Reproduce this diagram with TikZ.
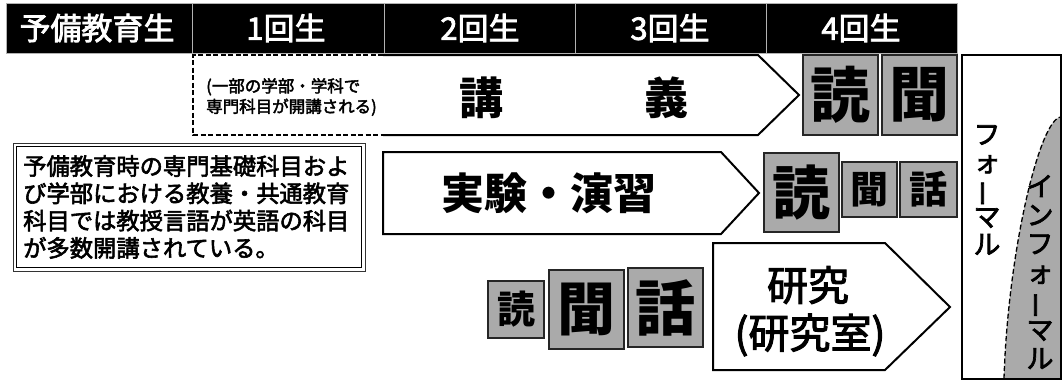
\documentclass[tikz,border=0pt]{standalone}
\usepackage{fontspec}
\setmainfont{Noto Sans CJK JP}
\newfontfamily\jpmed{Noto Sans CJK JP}[FakeBold=2.5]
\usepackage{graphicx}
\newcommand{\vbarchar}{\rotatebox[origin=c]{90}{ー}}
\definecolor{boxgray}{RGB}{170,170,170}
\begin{document}
\begin{tikzpicture}[x=1pt,y=-1pt,
  hcell/.style={fill=black, draw=gray!60, line width=0.8pt},
  htext/.style={text=white, inner sep=0pt, font=\jpmed\fontsize{31}{34}\selectfont},
  gbox/.style={fill=boxgray, draw=black!85, line width=1.2pt},
  penta/.style={draw=black, line width=2pt, line join=miter},
  kanji/.style={inner sep=0pt, font=\bfseries\fontsize{#1}{#1}\selectfont},
  medtext/.style={inner sep=0pt, font=\jpmed\fontsize{#1}{#1}\selectfont},
]
\useasboundingbox (0,0) rectangle (1063,380);

% header
\draw[hcell] (6,3) rectangle (192,53);
\draw[hcell] (192,3) rectangle (384,53);
\draw[hcell] (384,3) rectangle (575,53);
\draw[hcell] (575,3) rectangle (766,53);
\draw[hcell] (766,3) rectangle (957,53);
\node[htext] (h0) at (97,28) {予備教育生};
\node[htext] (h1) at (286,28) {1回生};
\node[htext] (h2) at (480,28) {2回生};
\node[htext] (h3) at (670,28) {3回生};
\node[htext] (h4) at (861,28) {4回生};

% row 1: lectures
\draw[penta, dash pattern=on 5pt off 2.5pt, line width=1.5pt] (383,55) -- (193,55) -- (193,135) -- (383,135);
\draw[penta] (383,55) -- (758,55) -- (799,95) -- (758,135) -- (383,135);
\node[anchor=west, align=left, inner sep=0pt, font=\jpmed\fontsize{16.5}{20.5}\selectfont] (sub) at (206,97) {(一部の学部・学科で\\専門科目が開講される)};
\node[kanji=44] (ko) at (481,98) {講};
\node[kanji=44] (gi) at (666,98) {義};
\draw[gbox] (803,55) rectangle (878,135);
\draw[gbox] (882,55) rectangle (957,135);
\node[kanji=60] (r1a) at (840.5,95) {読};
\node[kanji=60] (r1b) at (919.5,95) {聞};

% note box
\draw[line width=1pt, draw=black!80] (13,143) rectangle (365,271);
\draw[line width=1.6pt] (16.5,146.5) rectangle (361.5,267.5);
\node[anchor=west, align=left, inner sep=0pt, font=\jpmed\fontsize{23.3}{27.3}\selectfont] (note) at (23,207) {予備教育時の専門基礎科目およ\\び学部における教養・共通教育\\科目では教授言語が英語の科目\\が多数開講されている。};

% row 2: experiments
\draw[penta] (383,152) -- (721,152) -- (759,193) -- (721,234) -- (383,234) -- cycle;
\node[kanji=43] (ex) at (549,193) {実験・演習};
\draw[gbox] (764,153) rectangle (839,232);
\draw[gbox] (842,162) rectangle (897,217);
\draw[gbox] (900,162) rectangle (957,217);
\node[kanji=58] (r2a) at (801.5,192.5) {読};
\node[kanji=38] (r2b) at (869.5,189.5) {聞};
\node[kanji=38] (r2c) at (928.5,189.5) {話};

% row 3: research
\draw[gbox] (488,281) rectangle (544,338);
\draw[gbox] (549,270) rectangle (624,349);
\draw[gbox] (628,268) rectangle (703,347);
\node[kanji=38] (r3a) at (516,309.5) {読};
\node[kanji=58] (r3b) at (586.5,309.5) {聞};
\node[kanji=60] (r3c) at (665.5,307.5) {話};
\draw[penta] (713,243) -- (885,243) -- (950,307) -- (885,370) -- (713,370) -- cycle;
\node[medtext=41] (res1) at (808,285) {研究};
\node[medtext=41] (res2) at (810,335) {(研究室)};

% formal / informal
\fill[boxgray] (1004,378.5) .. controls (1008,250) and (1040,118) .. (1061,117) -- (1061,378.5) -- cycle;
\draw[dash pattern=on 5pt off 2.5pt, line width=1.3pt] (1004,378.5) .. controls (1008,250) and (1040,118) .. (1061,117);
\draw[line width=2pt] (962,55) rectangle (1061,378.5);
\node[align=center, inner sep=0pt, font=\jpmed\fontsize{27}{27.5}\selectfont] (formal) at (987,190) {フ\\ォ\\\vbarchar\\マ\\ル};
\node[align=center, inner sep=0pt, font=\jpmed\fontsize{27}{28.7}\selectfont] (informal) at (1040,272) {イ\\ン\\フ\\ォ\\\vbarchar\\マ\\ル};
\end{tikzpicture}
\end{document}
